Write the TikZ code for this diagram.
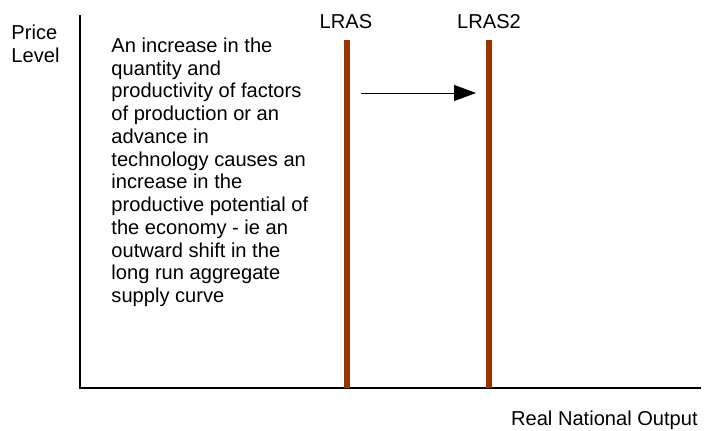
\documentclass[tikz,border=0pt]{standalone}
\usepackage{fontspec}
\setmainfont{Liberation Sans}
\usepackage{xcolor}
\usepackage{tikz}
\usetikzlibrary{calc, arrows.meta, positioning}

\definecolor{lrasbrown}{HTML}{993300}

\begin{document}
\begin{tikzpicture}[>=latex, font=\fontsize{14.3}{16.2}\selectfont]
    \useasboundingbox (0,0) rectangle (17.675,10.775);

    % 1. Hệ trục: Price Level và Real National Output
    \coordinate (O) at (2,1.075);
    \coordinate (ytop) at (2,10.4);
    \coordinate (xend) at (17.525,1.075);
    \draw[black, line width=0.9pt] (ytop) -- (O) -- (xend);
    \node[anchor=west, align=left, inner sep=0pt] (plabel) at (0.28,9.68) {Price\\Level};
    \node[anchor=east, inner sep=0pt] (xlabel) at (17.45,0.275) {Real National Output};

    % 2. Hai đường LRAS thẳng đứng
    \coordinate (lrasT) at (8.675,9.775);
    \coordinate (lrasB) at (8.675,1.075);
    \coordinate (lrastwoT) at (12.225,9.775);
    \coordinate (lrastwoB) at (12.225,1.075);
    \draw[lrasbrown, line width=3.6pt] (lrasT) -- (lrasB);
    \draw[lrasbrown, line width=3.6pt] (lrastwoT) -- (lrastwoB);
    \node (lras) at (8.65,10.23) {LRAS};
    \node (lrastwo) at (12.225,10.23) {LRAS2};

    % Mũi tên dịch chuyển sang phải
    \coordinate (shiftA) at (9.025,8.45);
    \coordinate (shiftB) at (11.9,8.45);
    \draw[-{Triangle[length=5.5mm,width=4mm]}, black, line width=0.7pt] (shiftA) -- (shiftB);

    % 3. Đoạn chú thích
    \node[anchor=north west, align=left, inner sep=0pt] (note) at (2.78,9.84)
      {An increase in the\\quantity and\\productivity of factors\\of production or an\\advance in\\technology causes an\\increase in the\\productive potential of\\the economy - ie an\\outward shift in the\\long run aggregate\\supply curve};
\end{tikzpicture}
\end{document}
